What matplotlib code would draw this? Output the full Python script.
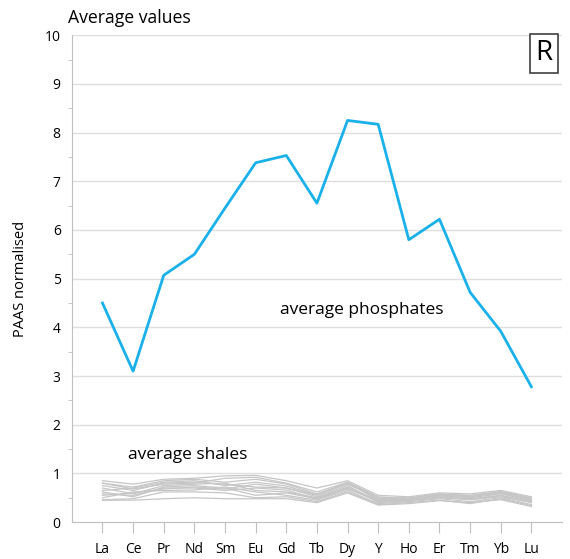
import matplotlib
matplotlib.use("Agg")
import matplotlib.pyplot as plt
from matplotlib.ticker import MultipleLocator

plt.rcParams['font.family'] = ['Open Sans', 'DejaVu Sans']

# REE categories
elements = ['La', 'Ce', 'Pr', 'Nd', 'Sm', 'Eu', 'Gd', 'Tb', 'Dy', 'Y', 'Ho', 'Er', 'Tm', 'Yb', 'Lu']

# average phosphates (PAAS normalised)
phosphates = [4.50, 3.10, 5.07, 5.50, 6.45, 7.38, 7.53, 6.55, 8.25, 8.17, 5.80, 6.22, 4.72, 3.92, 2.78]

# average shales, one list per sample
shale_1 = [0.85, 0.78, 0.88, 0.90, 0.95, 0.96, 0.85, 0.70, 0.85, 0.55, 0.52, 0.60, 0.58, 0.65, 0.52]
shale_2 = [0.80, 0.72, 0.85, 0.88, 0.82, 0.88, 0.78, 0.58, 0.80, 0.50, 0.50, 0.58, 0.55, 0.62, 0.48]
shale_3 = [0.75, 0.65, 0.80, 0.82, 0.78, 0.72, 0.70, 0.55, 0.78, 0.48, 0.48, 0.55, 0.52, 0.60, 0.45]
shale_4 = [0.70, 0.58, 0.75, 0.78, 0.80, 0.65, 0.62, 0.50, 0.72, 0.45, 0.46, 0.54, 0.50, 0.58, 0.44]
shale_5 = [0.62, 0.52, 0.72, 0.75, 0.70, 0.55, 0.60, 0.48, 0.70, 0.42, 0.45, 0.52, 0.48, 0.55, 0.42]
shale_6 = [0.55, 0.60, 0.68, 0.72, 0.68, 0.78, 0.70, 0.52, 0.75, 0.40, 0.44, 0.50, 0.46, 0.52, 0.40]
shale_7 = [0.50, 0.62, 0.65, 0.66, 0.72, 0.62, 0.55, 0.45, 0.65, 0.38, 0.42, 0.48, 0.42, 0.50, 0.36]
shale_8 = [0.46, 0.48, 0.62, 0.62, 0.60, 0.50, 0.52, 0.42, 0.62, 0.36, 0.40, 0.45, 0.38, 0.48, 0.34]
shale_9 = [0.45, 0.45, 0.48, 0.50, 0.48, 0.48, 0.48, 0.40, 0.60, 0.35, 0.38, 0.44, 0.40, 0.46, 0.32]
shale_10 = [0.80, 0.68, 0.78, 0.80, 0.90, 0.92, 0.80, 0.62, 0.82, 0.52, 0.48, 0.57, 0.54, 0.63, 0.50]
shale_11 = [0.65, 0.70, 0.82, 0.85, 0.75, 0.82, 0.74, 0.56, 0.80, 0.46, 0.47, 0.56, 0.53, 0.59, 0.46]
shale_12 = [0.58, 0.55, 0.70, 0.70, 0.65, 0.70, 0.66, 0.47, 0.68, 0.44, 0.44, 0.51, 0.47, 0.54, 0.41]
shales = [shale_1, shale_2, shale_3, shale_4, shale_5, shale_6,
          shale_7, shale_8, shale_9, shale_10, shale_11, shale_12]

fig = plt.figure(figsize=(5.7, 5.59), dpi=100)
ax = fig.add_axes([0.126, 0.066, 0.86, 0.871])

x = list(range(len(elements)))

# grid lines at each integer
for v in range(1, 11):
    ax.axhline(v, color='#dedede', lw=1, zorder=0)

for s in shales:
    ax.plot(x, s, color='#c6c6c6', lw=0.9, zorder=2)

ax.plot(x, phosphates, color='#1ab0ea', lw=2, zorder=3)

ax.set_xlim(-1, 15)
ax.set_ylim(0, 10)
ax.set_xticks(x)
ax.set_xticklabels(elements, fontsize=10)
ax.yaxis.set_major_locator(MultipleLocator(1))
ax.yaxis.set_minor_locator(MultipleLocator(0.5))
ax.tick_params(axis='y', which='major', length=0, labelsize=10, pad=8)
ax.tick_params(axis='y', which='minor', length=3, color='#bfbfbf')
ax.tick_params(axis='x', length=8, color='#bfbfbf', pad=6)

for side in ['top', 'right']:
    ax.spines[side].set_visible(False)
for side in ['left', 'bottom']:
    ax.spines[side].set_color('#bfbfbf')

ax.set_ylabel('PAAS normalised', fontsize=10.5, labelpad=12)

ax.text(8.46, 4.35, 'average phosphates', fontsize=12.5, ha='center', va='center')
ax.text(0.85, 1.37, 'average shales', fontsize=12.5, ha='left', va='center')

fig.text(0.12, 0.968, 'Average values', fontsize=12.7, ha='left', va='center')
fig.text(0.954, 0.905, 'R', fontsize=20, ha='center', va='center',
         bbox=dict(boxstyle='square,pad=0.2', fc='white', ec='#404040', lw=1.2))

fig.savefig('out.png', dpi=100)
